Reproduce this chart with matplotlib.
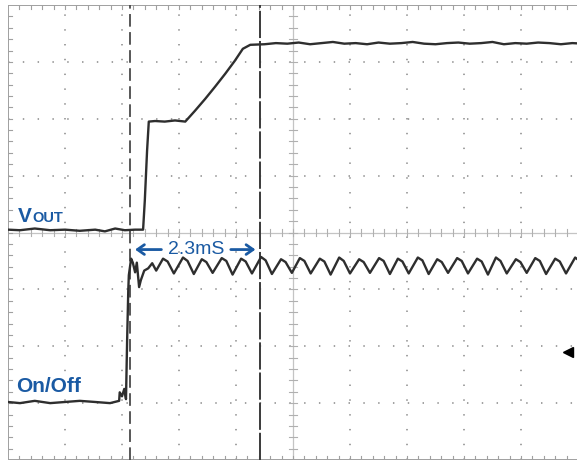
import matplotlib
matplotlib.use('Agg')
import matplotlib.pyplot as plt
import numpy as np

# screen units: 1 division on each axis, 10 x 8 divisions
vout_x = [0.0, 0.21, 0.47, 0.74, 1.0, 1.26, 1.53, 1.70, 1.88, 2.05, 2.23, 2.37,
          2.40, 2.44, 2.47, 2.58, 2.75, 2.93, 3.11, 3.28, 3.46, 3.63, 3.81, 3.98, 4.12,
          4.25, 4.5, 4.7, 4.9, 5.1, 5.3, 5.5, 5.7, 5.9, 6.1, 6.3, 6.5, 6.7, 6.9, 7.1,
          7.3, 7.5, 7.7, 7.9, 8.1, 8.3, 8.5, 8.7, 8.9, 9.1, 9.3, 9.5, 9.7, 9.9, 10.1]
vout_y = [4.05, 4.04, 4.07, 4.04, 4.05, 4.03, 4.05, 4.02, 4.07, 4.04, 4.05, 4.05,
          4.56, 5.44, 5.95, 5.96, 5.95, 5.97, 5.95, 6.14, 6.35, 6.56, 6.79, 7.02, 7.23,
          7.30, 7.31, 7.33, 7.32, 7.34, 7.31, 7.33, 7.35, 7.32, 7.33, 7.31, 7.34, 7.32,
          7.33, 7.35, 7.32, 7.31, 7.33, 7.34, 7.32, 7.33, 7.35, 7.31, 7.33, 7.32, 7.34,
          7.33, 7.31, 7.33, 7.32]

# On/Off: low level, switch edge and start of ripple
onoff_x = [0.0, 0.21, 0.47, 0.74, 1.0, 1.26, 1.53, 1.79, 1.95, 1.96, 2.0, 2.04, 2.07,
           2.09, 2.11, 2.12, 2.16, 2.19, 2.23, 2.26, 2.30, 2.33, 2.39, 2.46, 2.53, 2.60]
onoff_y = [1.02, 1.00, 1.04, 1.00, 1.02, 1.04, 1.02, 1.00, 1.04, 1.19, 1.12, 1.25, 1.07,
           2.11, 2.98, 3.25, 3.54, 3.47, 3.30, 3.47, 3.04, 3.16, 3.33, 3.37, 3.46, 3.33]

# ripple: peak, shelf, trough of each cycle
peak_x = [2.72, 3.07, 3.40, 3.75, 4.09, 4.44, 4.79, 5.12, 5.47, 5.81, 6.16, 6.51,
          6.84, 7.19, 7.53, 7.88, 8.23, 8.56, 8.91, 9.25, 9.60, 9.95]
peak_y = [3.54, 3.56, 3.53, 3.55, 3.54, 3.57, 3.53, 3.55, 3.54, 3.56, 3.53, 3.55,
          3.54, 3.56, 3.53, 3.55, 3.54, 3.56, 3.53, 3.55, 3.54, 3.56]
shelf_x = [2.80, 3.15, 3.48, 3.83, 4.17, 4.52, 4.87, 5.20, 5.55, 5.89, 6.24, 6.59,
           6.92, 7.27, 7.61, 7.96, 8.31, 8.64, 8.99, 9.33, 9.68, 10.03]
shelf_y = [3.49, 3.50, 3.48, 3.50, 3.49, 3.51, 3.48, 3.50, 3.49, 3.50, 3.48, 3.50,
           3.49, 3.51, 3.48, 3.50, 3.49, 3.50, 3.48, 3.50, 3.49, 3.50]
trough_x = [2.91, 3.26, 3.59, 3.94, 4.28, 4.63, 4.98, 5.31, 5.66, 6.00, 6.35, 6.70,
            7.03, 7.38, 7.72, 8.07, 8.42, 8.75, 9.10, 9.44, 9.79, 10.14]
trough_y = [3.28, 3.27, 3.29, 3.26, 3.28, 3.27, 3.29, 3.28, 3.26, 3.28, 3.29, 3.27,
            3.28, 3.27, 3.29, 3.28, 3.26, 3.28, 3.29, 3.27, 3.28, 3.30]

cursor1 = 2.14
cursor2 = 4.42
trig_level = 1.90

blue = '#1a5aa3'
trace = '#2e2e2e'
gridc = '#9a9a9a'

for px, py, sx, sy, tx, ty in zip(peak_x, peak_y, shelf_x, shelf_y, trough_x, trough_y):
    onoff_x += [px, sx, tx]
    onoff_y += [py, sy, ty]

fig = plt.figure(figsize=(5.77, 4.63), dpi=100)
ax = fig.add_axes([8/577, 3/463, 570/577, 455/463])
ax.set_xlim(0, 10)
ax.set_ylim(0, 8)
ax.axis('off')

# dotted graticule
for gx in range(1, 10):
    if gx == 5:
        continue
    ax.plot([gx, gx], [0, 8], color=gridc, lw=1.3, dashes=(0.8, 7.4), zorder=1)
for gy in range(1, 8):
    if gy == 4:
        continue
    ax.plot([0, 10], [gy, gy], color=gridc, lw=1.3, dashes=(0.8, 7.4), zorder=1)

# centre axes + frame with minor ticks
ax.plot([5, 5], [0, 8], color='#c4c4c4', lw=0.9, zorder=1)
ax.plot([0, 10], [4, 4], color='#c4c4c4', lw=0.9, zorder=1)
ax.plot([0, 10, 10, 0, 0], [0, 0, 8, 8, 0], color='#a0a0a0', lw=1.4, zorder=1)
tk = 0.07
for t in np.arange(0.2, 10, 0.2):
    ax.plot([t, t], [4 - tk, 4 + tk], color='#b0b0b0', lw=0.8, zorder=1)
    ax.plot([t, t], [0, tk], color='#a0a0a0', lw=0.8, zorder=1)
    ax.plot([t, t], [8 - tk, 8], color='#a0a0a0', lw=0.8, zorder=1)
for t in np.arange(0.2, 8, 0.2):
    ax.plot([5 - tk, 5 + tk], [t, t], color='#b0b0b0', lw=0.8, zorder=1)
    ax.plot([0, tk], [t, t], color='#a0a0a0', lw=0.8, zorder=1)

# cursors
ax.plot([cursor1, cursor1], [0, 8], color='#4a4a4a', lw=1.3, dashes=(7, 3), zorder=2)
ax.plot([cursor2, cursor2], [0, 8], color='#3a3a3a', lw=1.4, dashes=(14, 1.5), zorder=2)

# traces
ax.plot(vout_x, vout_y, color=trace, lw=1.7, zorder=3)
ax.plot(onoff_x, onoff_y, color=trace, lw=1.7, zorder=3)
ax.plot([9.83], [trig_level], marker='<', color='black', ms=7, zorder=3)

# labels
ax.text(0.17, 4.18, 'V', color=blue, fontsize=15, fontweight='bold',
        family='Liberation Sans', va='baseline')
ax.text(0.43, 4.18, 'OUT', color=blue, fontsize=10.5, fontweight='bold',
        family='Liberation Sans', va='baseline')
ax.text(0.14, 1.19, 'On/Off', color=blue, fontsize=15, fontweight='bold',
        family='Liberation Sans', va='baseline')
ax.text(3.30, 3.70, '2.3mS', color=blue, fontsize=14, family='Liberation Sans',
        ha='center', va='center')
ax.annotate('', xy=(2.18, 3.70), xytext=(2.74, 3.70),
            arrowprops=dict(arrowstyle='->,head_length=0.5,head_width=0.35', color=blue, lw=2))
ax.annotate('', xy=(4.39, 3.70), xytext=(3.86, 3.70),
            arrowprops=dict(arrowstyle='->,head_length=0.5,head_width=0.35', color=blue, lw=2))

fig.savefig('out.png', dpi=100)
